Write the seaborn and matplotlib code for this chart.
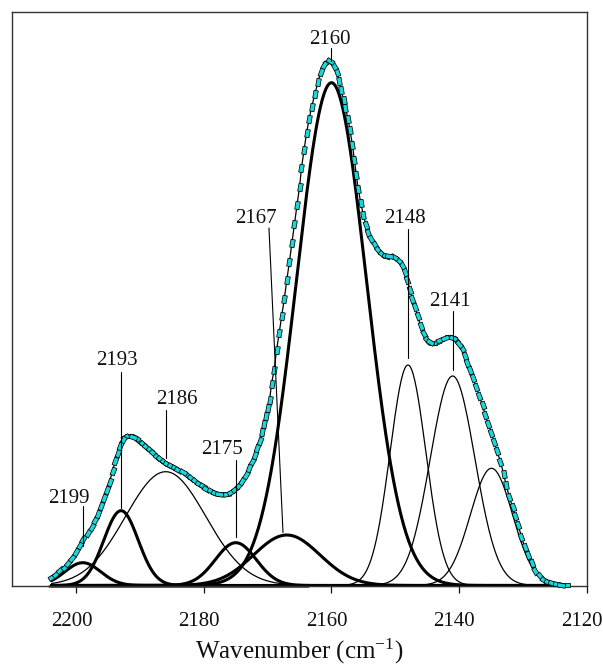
import numpy as np
import matplotlib
matplotlib.use("Agg")
import matplotlib.pyplot as plt
import seaborn as sns
from matplotlib.markers import MarkerStyle
from matplotlib.path import Path
from matplotlib.transforms import Affine2D, ScaledTranslation

# Measured CO-adsorption spectrum
wavenumber = [
    2203.9, 2203.2, 2202.5, 2201.8, 2201.3, 2200.7, 2200.0, 2199.4, 2198.9, 2198.2,
    2197.6, 2197.1, 2196.6, 2196.1, 2195.7, 2195.2, 2194.8, 2194.3, 2193.9, 2193.5,
    2193.1, 2192.7, 2192.3, 2191.8, 2191.2, 2190.7, 2190.2, 2189.6, 2189.1, 2188.5,
    2188.0, 2187.4, 2186.9, 2186.3, 2185.8, 2185.2, 2184.6, 2184.0, 2183.3, 2182.7,
    2182.1, 2181.4, 2180.8, 2180.2, 2179.6, 2178.9, 2178.3, 2177.7, 2177.0, 2176.4,
    2175.8, 2175.2, 2174.5, 2174.0, 2173.4, 2173.0, 2172.5, 2172.0, 2171.6, 2171.2,
    2170.9, 2170.6, 2170.3, 2170.0, 2169.7, 2169.4, 2169.0, 2168.6, 2168.2, 2167.8,
    2167.4, 2167.0, 2166.6, 2166.2, 2165.8, 2165.4, 2165.0, 2164.7, 2164.3, 2163.9,
    2163.5, 2163.1, 2162.6, 2162.1, 2161.7, 2161.2, 2160.7, 2160.2, 2159.6, 2159.2,
    2158.8, 2158.5, 2158.1, 2157.8, 2157.4, 2157.1, 2156.7, 2156.4, 2156.1, 2155.8,
    2155.4, 2155.0, 2154.6, 2154.2, 2153.8, 2153.2, 2152.7, 2152.1, 2151.5, 2150.9,
    2150.2, 2149.6, 2149.0, 2148.5, 2148.1, 2147.7, 2147.3, 2146.9, 2146.5, 2146.0,
    2145.5, 2145.0, 2144.5, 2144.0, 2143.4, 2142.9, 2142.2, 2141.6, 2141.0, 2140.5,
    2140.0, 2139.6, 2139.1, 2138.7, 2138.2, 2137.8, 2137.3, 2136.8, 2136.3, 2135.9,
    2135.4, 2134.9, 2134.5, 2134.0, 2133.5, 2133.0, 2132.6, 2132.1, 2131.6, 2131.2,
    2130.7, 2130.2, 2129.7, 2129.1, 2128.6, 2128.0, 2127.3, 2126.7, 2126.0, 2125.4,
    2124.7, 2124.0, 2123.2,
]
absorbance = [
    0.009, 0.012, 0.016, 0.019, 0.023, 0.028, 0.034, 0.041, 0.047, 0.053,
    0.059, 0.066, 0.072, 0.080, 0.088, 0.096, 0.104, 0.115, 0.125, 0.133,
    0.140, 0.146, 0.149, 0.150, 0.149, 0.148, 0.145, 0.142, 0.139, 0.136,
    0.133, 0.129, 0.127, 0.124, 0.122, 0.120, 0.118, 0.116, 0.114, 0.111,
    0.108, 0.105, 0.102, 0.100, 0.097, 0.095, 0.093, 0.092, 0.0915, 0.092,
    0.0935, 0.0965, 0.1005, 0.105, 0.111, 0.1175, 0.1235, 0.1305, 0.1375, 0.1445,
    0.1535, 0.1615, 0.1695, 0.1775, 0.1855, 0.2015, 0.2155, 0.2355, 0.2525, 0.2695,
    0.2865, 0.3055, 0.3235, 0.3425, 0.3615, 0.3805, 0.3985, 0.4175, 0.4355, 0.4525,
    0.4665, 0.4785, 0.4915, 0.5035, 0.5135, 0.5205, 0.5235, 0.524, 0.5195, 0.5135,
    0.5045, 0.4955, 0.4855, 0.4775, 0.4665, 0.4555, 0.4405, 0.4255, 0.4105, 0.3965,
    0.3825, 0.3705, 0.3605, 0.3525, 0.3465, 0.3405, 0.3355, 0.3315, 0.3295, 0.329,
    0.328, 0.325, 0.3205, 0.313, 0.3055, 0.2955, 0.2865, 0.2785, 0.2695, 0.2595,
    0.2515, 0.246, 0.2435, 0.243, 0.244, 0.246, 0.2475, 0.2485, 0.248, 0.2455,
    0.2415, 0.2375, 0.2295, 0.2225, 0.2155, 0.2075, 0.1985, 0.1895, 0.1805, 0.1705,
    0.1615, 0.1525, 0.1435, 0.1345, 0.1235, 0.112, 0.1005, 0.0885, 0.0785, 0.0695,
    0.0605, 0.0485, 0.0385, 0.0305, 0.0225, 0.0145, 0.0095, 0.006, 0.0038, 0.0025,
    0.0015, 0.0007, 0.0005,
]

# Gaussian bands of the deconvolution
band_center = [2199, 2193, 2186, 2175, 2167, 2160, 2148, 2141, 2134.9]
band_height = [0.0228, 0.0748, 0.1138, 0.0428, 0.0505, 0.5028, 0.2205, 0.2095, 0.1172]
band_sigma = [2.8, 2.7, 6.3, 3.2, 5.2, 5.5, 2.8, 3.5, 3.3]
band_bold = [True, True, False, True, True, True, False, False, False]

# Baseline segment
baseline_wn = [2204.3, 2163.6]
baseline_val = [0.0, 0.0]

tick_values = [2200, 2180, 2160, 2140, 2120]
tick_labels = ["2200", "2180", "2160", "2140", "2120"]

band_labels = ["2199", "2193", "2186", "2175", "2167", "2160", "2148", "2141"]

# Label placement: text anchor (x, baseline y) and leader line (x0, y0, x1, y1)
label_anchor = [
    (2201.2, 0.0825), (2193.7, 0.2205), (2184.3, 0.1815), (2177.1, 0.132),
    (2171.9, 0.362), (2160.2, 0.5415), (2148.5, 0.362), (2141.4, 0.279),
]
leader = [
    (2199, 0.0795, 2199, 0.0395), (2193, 0.2135, 2193, 0.0775),
    (2186, 0.1755, 2186, 0.1275), (2175, 0.1255, 2175, 0.0488),
    (2169.8, 0.3575, 2167.6, 0.053), (2160, 0.5375, 2160, 0.524),
    (2148, 0.3565, 2148, 0.2275), (2141, 0.274, 2141, 0.2155),
]

sns.set_theme(style="white")
plt.rcParams["font.family"] = ["Liberation Serif", "DejaVu Serif"]
plt.rcParams["mathtext.fontset"] = "custom"
plt.rcParams["mathtext.rm"] = "Liberation Serif"
plt.rcParams["mathtext.it"] = "Liberation Serif:italic"
plt.rcParams["text.color"] = "#111111"
plt.rcParams["axes.labelcolor"] = "#111111"
plt.rcParams["xtick.color"] = "#111111"

W, H = 603, 667
fig = plt.figure(figsize=(W / 100, H / 100), dpi=100)
ax = fig.add_axes([12 / W, 1 - 585.5 / H, (586.5 - 12) / W, (585.5 - 11.5) / H])
ax.set_xlim(2210.1, 2120)
ax.set_ylim(0, 0.574)

# Baseline
sns.lineplot(x=baseline_wn, y=baseline_val, ax=ax, color="#7a007a", lw=1.8,
             sort=False, estimator=None, clip_on=False, zorder=1)

# Component bands, thin ones first
grid = np.linspace(max(wavenumber), min(wavenumber), 600)
order = sorted(range(len(band_center)), key=lambda i: band_bold[i])
for i in order:
    yb = band_height[i] * np.exp(-0.5 * ((grid - band_center[i]) / band_sigma[i]) ** 2)
    sns.lineplot(x=grid, y=yb, ax=ax, color="black",
                 lw=2.2 if band_bold[i] else 0.9,
                 sort=False, estimator=None, clip_on=False, zorder=2)

# Envelope line through the measured points
sns.lineplot(x=wavenumber, y=absorbance, ax=ax, color="black", lw=0.9,
             sort=False, estimator=None, zorder=3)

# Measured points as small rectangles oriented along the trace
wn_arr = np.asarray(wavenumber)
ab_arr = np.asarray(absorbance)
pts = ax.transData.transform(np.column_stack([wn_arr, ab_arr]))
ang = np.degrees(np.arctan2(np.gradient(pts[:, 1]), np.gradient(pts[:, 0]))) % 180
ang_bin = (np.round(ang / 10) * 10) % 180
rect = Path([(-1, -0.55), (1, -0.55), (1, 0.55), (-1, 0.55), (-1, -0.55)], closed=True)
for a in np.unique(ang_bin):
    m = ang_bin == a
    sns.scatterplot(x=wn_arr[m], y=ab_arr[m], ax=ax,
                    marker=MarkerStyle(rect, transform=Affine2D().rotate_deg(a)),
                    s=32, color="#19d8dc", edgecolor="black", linewidth=0.55,
                    zorder=4, clip_on=False, legend=False)

# Band labels with leader lines
for text, (tx, ty), (x0, y0, x1, y1) in zip(band_labels, label_anchor, leader):
    ax.plot([x0, x1], [y0, y1], color="black", lw=0.8, zorder=5)
    ax.text(tx, ty, text, ha="center", va="baseline", fontsize=15, zorder=6)

ax.set_xticks(tick_values)
ax.set_xticklabels(tick_labels)
ax.set_yticks([])
ax.tick_params(axis="x", bottom=True, direction="out", length=5, width=0.9,
               pad=14, labelsize=15)
shift = ScaledTranslation(-5 / 100, 0, fig.dpi_scale_trans)
for lab in ax.get_xticklabels():
    lab.set_transform(lab.get_transform() + shift)
for sp in ax.spines.values():
    sp.set_visible(True)
    sp.set_color("#333333")
    sp.set_linewidth(1.0)
ax.set_xlabel("Wavenumber (cm$^{-1}$)", fontsize=18, labelpad=4)
ax.set_ylabel("")

fig.savefig("out.png", dpi=100)
